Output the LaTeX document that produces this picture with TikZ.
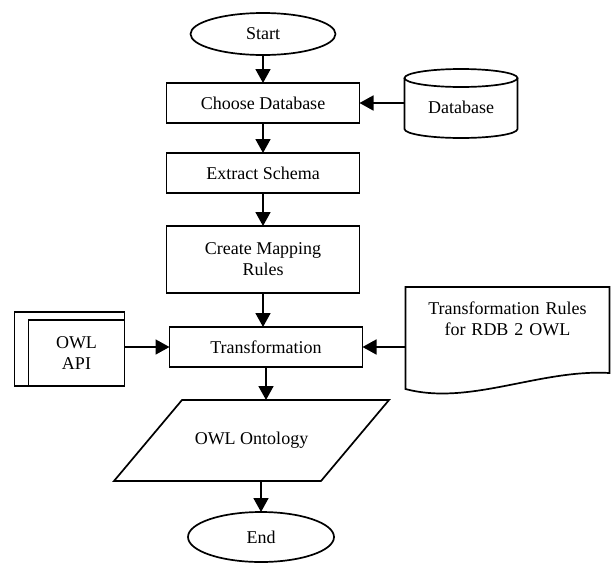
\documentclass[tikz,border=0pt]{standalone}
\usepackage{fontspec}
\setmainfont{Liberation Serif}
\usetikzlibrary{arrows.meta, positioning, shapes.geometric}

\begin{document}
\begin{tikzpicture}[
        x=1pt, y=-1pt,
        font=\fontsize{18}{21}\selectfont,
        line width=1.7pt,
        every node/.style={outer sep=0pt},
        term/.style={draw, ellipse, minimum width=145pt, inner sep=0pt},
        box/.style={draw, align=center, minimum width=193pt, minimum height=40pt, inner sep=0pt},
        plain/.style={align=center, inner sep=0pt},
        arr/.style={-{Triangle[length=14pt, width=15pt]}, line width=1.7pt}
      ]
        \useasboundingbox (0,0) rectangle (613,563);
        \node[term, minimum height=42pt] (start) at (263,34) {Start};
        \node[box, below=28pt of start]   (choose)  {Choose Database};
        \node[box, below=30pt of choose]  (extract) {Extract Schema};
        \node[box, minimum height=67pt, below=33pt of extract] (mapping) {Create Mapping\\Rules};
        \node[box, below=34pt of mapping, xshift=3pt] (transf) {Transformation};
        \node[plain, minimum width=275pt, minimum height=81pt, below=33pt of transf, xshift=-14.5pt] (onto) {OWL Ontology};
        \node[term, minimum width=146pt, minimum height=50pt, below=31pt of onto, xshift=9.5pt] (endn) {End};
        \node[plain, minimum width=113pt, minimum height=62pt, right=45pt of choose, yshift=-4pt] (db) {Database};
        \node[plain, draw, minimum width=96pt, minimum height=66pt, left=45pt of transf, yshift=-6pt] (api) {OWL\\API};
        \node[plain, text width=204pt, right=43pt of transf, yshift=28pt] (rules) {Transformation Rules\\for RDB 2 OWL};
        % outlines of the symbol shapes
        \draw[shift={(db.center)}] (-56.5,-29) -- (-56.5,22) arc[start angle=180, end angle=360, x radius=56.5pt, y radius=9pt] -- (56.5,-29);
        \draw[shift={(db.center)}] (0,-29) ellipse [x radius=56.5pt, y radius=9pt];
        \draw ([shift={(-14pt,8pt)}]api.north west) rectangle (api.south east);
        \draw ([xshift=68pt]onto.north west) -- (onto.north east) -- ([xshift=-68pt]onto.south east) -- (onto.south west) -- cycle;
        \draw[shift={(rules.center)}] (-102,-32) -- (102,-32) -- (102,54) .. controls (32,50) and (-38,87) .. (-102,70) -- cycle;
        % connectors
        \draw[arr] (start.south) -- (start.south |- choose.north);
        \draw[arr] (choose.south) -- (extract.north);
        \draw[arr] (extract.south) -- (mapping.north);
        \draw[arr] (mapping.south) -- (mapping.south |- transf.north);
        \draw[arr] (transf.south) -- (transf.south |- onto.north);
        \draw[arr] (endn.north |- onto.south) -- (endn.north);
        \draw[arr] (db.west |- choose) -- (choose);
        \draw[arr] (api.east |- transf) -- (transf);
        \draw[arr] (rules.west |- transf) -- (transf);
      \end{tikzpicture}
\end{document}
